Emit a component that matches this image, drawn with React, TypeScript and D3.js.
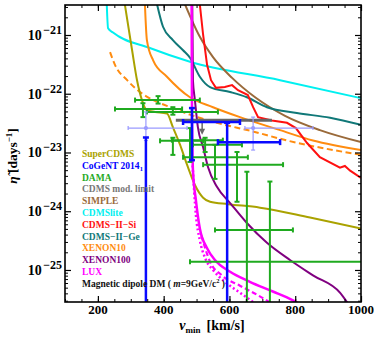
import React, { useEffect, useRef } from 'react';
import * as d3 from 'd3';

// curves: [vmin (km/s), eta (days^-1)]
const superCDMS = [[282, 3.3e-21], [304, 5.5e-22], [319, 1.7e-22], [334, 7.8e-23], [349, 5.2e-23], [374, 4.9e-23], [410, 4.6e-23], [428, 2.7e-23], [450, 1.35e-23], [471, 6.2e-24], [495, 2.8e-24], [520, 1.7e-24], [541, 1.45e-24], [596, 1.32e-24], [693, 1.15e-24], [845, 7.8e-25], [1000, 5.1e-25]];
const cdmsLite = [[227, 3.3e-21], [231, 1.3e-21], [246, 1.1e-21], [358, 6.0e-22], [480, 3.5e-22], [754, 1.7e-22], [1000, 8.4e-23]];
const cdmsSi = [[510, 3.3e-21], [520, 1.0e-21], [532, 3.1e-22], [544, 1.7e-22], [559, 1.26e-22], [586, 1.3e-22], [608, 1.4e-22], [626, 1.15e-22], [656, 9.5e-23], [672, 5.9e-23], [687, 4.0e-23], [729, 3.5e-23], [775, 3.2e-23], [802, 2.6e-23], [836, 1.45e-23], [875, 8.3e-24], [936, 5.5e-24], [951, 5.9e-24], [967, 4.9e-24], [1000, 3.7e-24]];
const cdmsGe = [[380, 3.3e-21], [398, 1.38e-21], [428, 8.2e-22], [459, 5.5e-22], [480, 4.1e-22], [510, 1.95e-22], [541, 1.3e-22], [602, 1.07e-22], [653, 8.7e-23], [714, 5.9e-23], [805, 4.7e-23], [906, 3.9e-23], [1000, 2.95e-23]];
const simple = [[465, 3.3e-21], [510, 9.3e-22], [550, 4.2e-22], [608, 1.86e-22], [678, 8.7e-23], [769, 4.2e-23], [875, 2.4e-23], [1000, 1.5e-23]];
const xenon10 = [[343, 3.3e-21], [349, 8.2e-22], [368, 3.7e-22], [410, 1.95e-22], [480, 8.7e-23], [550, 5.9e-23], [632, 4.0e-23], [754, 2.4e-23], [854, 1.6e-23], [1000, 1.1e-23]];
const xenon10Dash = [[237, 5.1e-22], [252, 3.1e-22], [289, 1.7e-22], [328, 1.07e-22], [368, 7.8e-23], [428, 5.7e-23], [480, 4.4e-23], [571, 3.1e-23], [662, 2.35e-23], [775, 1.6e-23], [1000, 9.1e-24]];
const xenon100 = [[487, 3.3e-21], [489, 1.7e-22], [495, 7.8e-23], [504, 2.7e-23], [520, 1.23e-23], [535, 5.6e-24], [562, 2.6e-24], [602, 1.38e-24], [653, 6.3e-25], [714, 2.9e-25], [784, 1.48e-25], [854, 8.1e-26], [936, 4.1e-26], [960, 2.7e-26]];
const lux = [[485, 3.3e-21], [486, 7.8e-23], [489, 5.0e-24], [498, 1.55e-24], [510, 5.1e-25], [532, 2.35e-25], [556, 1.48e-25], [602, 9.3e-26], [662, 6.3e-26], [732, 4.3e-26], [790, 3.1e-26], [815, 2.6e-26]];
const luxDot = [[488, 6.0e-24], [498, 8.7e-25], [510, 3.2e-25], [526, 1.6e-25], [550, 1.0e-25], [586, 6.3e-26], [632, 4.1e-26], [678, 2.7e-26]];
const luxDash = [[515, 3.8e-25], [541, 1.38e-25], [577, 8.1e-26], [632, 5.4e-26], [687, 3.7e-26], [729, 2.7e-26]];

// DAMA modulation points
const damaV = [383, 337, 428, 428, 480, 526, 556, 623, 653, 723];
const damaVLo = [313, 252, 349, 389, 425, 489, 459, 520, 556, 480];
const damaVHi = [510, 456, 565, 520, 580, 638, 656, 763, 793, 1050];
const damaEta = [7.8e-23, 5.5e-23, 4.9e-23, 1.58e-23, 1.62e-23, 1.35e-23, 8.3e-24, 6.2e-24, 4.8e-25, 1.38e-25];
const damaEtaLo = [6.8e-23, 4.0e-23, 4.4e-23, 9.1e-24, 6.9e-24, 1.02e-23, 3.55e-24, 1.45e-24, 1e-26, 1e-26];
const damaEtaHi = [9.1e-23, 6.9e-23, 5.9e-23, 1.78e-23, 2.6e-23, 1.78e-23, 1.35e-23, 1.02e-23, 4.7e-24, 3.2e-24];

// CoGeNT 2014 points
const cogentV = [346, 486, 593];
const cogentVLo = [346, 459, 565];
const cogentVHi = [346, 632, 754];
const cogentEta = [1.8e-23, 3.3e-23, 1.5e-23];
const cogentEtaLo = [1e-26, 7.4e-24, 1e-26];
const cogentEtaHi = [1.8e-23, 5.7e-23, 3.2e-23];

const cogentLightV = [346, 672];
const cogentLightVLo = [292, 647];
const cogentLightVHi = [471, 854];
const cogentLightEta = [2.6e-23, 2.6e-23];
const cogentLightEtaLo = [1.6e-23, 1.1e-23];
const cogentLightEtaHi = [4.9e-23, 4.0e-23];

// CDMS modulation limit
const cdmsModV = [437, 729];
const cdmsModEta = 3.55e-23;
const cdmsModArrowV = 517;
const cdmsModArrowTip = 2.0e-23;

const xTickLabels = [200, 400, 600, 800, 1000];
const yTickLabels = [1e-25, 1e-24, 1e-23, 1e-22, 1e-21];
const yTickExp = ['\u221225', '\u221224', '\u221223', '\u221222', '\u221221'];

const legendNames = ['SuperCDMS', 'CoGeNT 2014', 'DAMA', 'CDMS mod. limit', 'SIMPLE', 'CDMSlite', 'CDMS\u2212II\u2212Si', 'CDMS\u2212II\u2212Ge', 'XENON10', 'XENON100', 'LUX'];
const legendColors = ['#aaa200', '#0000ff', '#1faa1f', '#777777', '#9a6a3a', '#00f0f0', '#ff1010', '#107878', '#ff8c10', '#800080', '#ff00ff'];

const FONT = "'Liberation Serif', 'DejaVu Serif', serif";

const App = () => {
    const svgRef = useRef(null);

    useEffect(() => {
        const width = 374;
        const height = 337;
        const left = 65, right = 361, top = 5, bottom = 302;

        const svg = d3.select(svgRef.current)
            .attr('width', width)
            .attr('height', height)
            .style('font-family', FONT);
        svg.selectAll('*').remove();

        const x = d3.scaleLinear().domain([100, 1000]).range([left, right]);
        const y = d3.scaleLog().domain([2.85e-26, 3.24e-21]).range([bottom, top]);

        svg.append('defs').append('clipPath').attr('id', 'plotClip')
            .append('rect')
            .attr('x', left).attr('y', top)
            .attr('width', right - left).attr('height', bottom - top);

        const plot = svg.append('g').attr('clip-path', 'url(#plotClip)');

        const line = d3.line().x(d => x(d[0])).y(d => y(d[1])).curve(d3.curveMonotoneX);
        const jagged = d3.line().x(d => x(d[0])).y(d => y(d[1]));

        const curve = (data, color, w, dash, gen = line) => {
            plot.append('path')
                .attr('d', gen(data))
                .attr('fill', 'none')
                .attr('stroke', color)
                .attr('stroke-width', w)
                .attr('stroke-dasharray', dash || null);
        };

        curve(cdmsLite, '#00f0f0', 2);
        curve(simple, '#9a6a3a', 2);
        curve(cdmsGe, '#107878', 2);
        curve(xenon10, '#ff8c10', 2);
        curve(xenon10Dash, '#ff8c10', 2, '6,3.5');
        curve(cdmsSi, '#ff1010', 2, null, jagged);
        curve(superCDMS, '#aaa200', 2);
        curve(xenon100, '#800080', 2);
        curve(luxDot, '#ff00ff', 2.5, '2,2.5');
        curve(luxDash, '#ff00ff', 2.2, '5,3');
        curve(lux, '#ff00ff', 2.5);

        // error bars
        const errorBars = (v, vLo, vHi, eta, etaLo, etaHi, color, w, cap, dot) => {
            v.forEach((vv, i) => {
                const g = plot.append('g').attr('stroke', color).attr('stroke-width', w).attr('fill', 'none');
                const cx = x(vv), cy = y(eta[i]);
                if (vLo[i] !== vHi[i]) {
                    g.append('line').attr('x1', x(vLo[i])).attr('x2', x(vHi[i])).attr('y1', cy).attr('y2', cy);
                    [vLo[i], vHi[i]].forEach(e => g.append('line')
                        .attr('x1', x(e)).attr('x2', x(e)).attr('y1', cy - cap).attr('y2', cy + cap));
                }
                g.append('line').attr('x1', cx).attr('x2', cx).attr('y1', y(etaLo[i])).attr('y2', y(etaHi[i]));
                [etaLo[i], etaHi[i]].forEach(e => g.append('line')
                    .attr('x1', cx - cap).attr('x2', cx + cap).attr('y1', y(e)).attr('y2', y(e)));
                if (dot) {
                    g.append('circle').attr('cx', cx).attr('cy', cy).attr('r', dot).attr('fill', color);
                }
            });
        };

        errorBars(damaV, damaVLo, damaVHi, damaEta, damaEtaLo, damaEtaHi, '#1faa1f', 2, 2.5, 0);

        // CDMS modulation limit with arrow
        plot.append('line')
            .attr('x1', x(cdmsModV[0])).attr('x2', x(cdmsModV[1]))
            .attr('y1', y(cdmsModEta)).attr('y2', y(cdmsModEta))
            .attr('stroke', '#666666').attr('stroke-width', 3);
        const ax = x(cdmsModArrowV), ay0 = y(cdmsModEta), ay1 = y(cdmsModArrowTip);
        plot.append('line')
            .attr('x1', ax).attr('x2', ax).attr('y1', ay0).attr('y2', ay1 - 4)
            .attr('stroke', '#666666').attr('stroke-width', 1.5);
        plot.append('path')
            .attr('d', `M${ax - 3},${ay1 - 6}L${ax + 3},${ay1 - 6}L${ax},${ay1}Z`)
            .attr('fill', '#666666');

        errorBars(cogentLightV, cogentLightVLo, cogentLightVHi, cogentLightEta, cogentLightEtaLo, cogentLightEtaHi, '#9a9aff', 1.2, 2, 1.5);
        errorBars(cogentV, cogentVLo, cogentVHi, cogentEta, cogentEtaLo, cogentEtaHi, '#0a0aff', 2.5, 3, 0);

        // ticks, inside the frame
        const xMinor = d3.range(100, 1001, 50);
        const yAll = y.ticks();
        const yMajor = yAll.filter(t => Math.abs(Math.log10(t) - Math.round(Math.log10(t))) < 1e-6);
        const yMinor = yAll.filter(t => !yMajor.includes(t));

        const axes = [
            [d3.axisBottom(x), `translate(0,${bottom})`, xMinor, xTickLabels],
            [d3.axisTop(x), `translate(0,${top})`, xMinor, xTickLabels],
            [d3.axisLeft(y), `translate(${left},0)`, yMinor, yMajor],
            [d3.axisRight(y), `translate(${right},0)`, yMinor, yMajor]
        ];
        axes.forEach(([ax0, tr, minor, major]) => {
            const gMinor = svg.append('g').attr('transform', tr)
                .call(ax0.tickValues(minor).tickSize(-3).tickFormat(() => ''));
            gMinor.select('.domain').remove();
            gMinor.selectAll('line').attr('stroke-width', 1);
            const gMajor = svg.append('g').attr('transform', tr)
                .call(ax0.tickValues(major).tickSize(-6).tickFormat(() => ''));
            gMajor.select('.domain').remove();
            gMajor.selectAll('line').attr('stroke-width', 1.2);
        });

        svg.append('rect')
            .attr('x', left).attr('y', top)
            .attr('width', right - left).attr('height', bottom - top)
            .attr('fill', 'none').attr('stroke', '#000').attr('stroke-width', 1.6);

        // tick labels
        svg.append('g').selectAll('text').data(xTickLabels).enter().append('text')
            .attr('x', d => x(d)).attr('y', 314)
            .attr('text-anchor', 'middle')
            .attr('font-size', 13).attr('font-weight', 'bold')
            .text(d => d);

        yTickLabels.forEach((t, i) => {
            const txt = svg.append('text')
                .attr('x', 62).attr('y', y(t) + 5)
                .attr('text-anchor', 'end')
                .attr('font-size', 14).attr('font-weight', 'bold');
            txt.append('tspan').text('10');
            txt.append('tspan').attr('dy', -6).attr('dx', 1.5).attr('font-size', 12).text(yTickExp[i]);
        });

        // axis labels
        const yl = svg.append('text')
            .attr('transform', `translate(17,156) rotate(-90)`)
            .attr('text-anchor', 'middle')
            .attr('font-size', 13.5).attr('font-weight', 'bold');
        yl.append('tspan').attr('font-style', 'italic').text('\u03b7\u0303');
        yl.append('tspan').text(' [days');
        yl.append('tspan').attr('dy', -5).attr('font-size', 9).text('\u22121');
        yl.append('tspan').attr('dy', 5).text(']');

        const xl = svg.append('text')
            .attr('x', 212).attr('y', 330)
            .attr('text-anchor', 'middle')
            .attr('font-size', 14).attr('font-weight', 'bold');
        xl.append('tspan').attr('font-style', 'italic').text('v');
        xl.append('tspan').attr('dy', 3).attr('font-size', 9).text('min');
        xl.append('tspan').attr('dy', -3).attr('dx', 6).text('[km/s]');

        // legend
        const legend = svg.append('g').attr('font-size', 9.5).attr('font-weight', 'bold');
        legendNames.forEach((name, i) => {
            const t = legend.append('text')
                .attr('x', 82).attr('y', 157 + i * 11.8)
                .attr('fill', legendColors[i])
                .text(name);
            if (name === 'CoGeNT 2014') {
                t.append('tspan').attr('dy', 2).attr('font-size', 6.5).text('1');
            }
        });
        const md = legend.append('text')
            .attr('x', 82).attr('y', 157 + legendNames.length * 11.8)
            .attr('fill', '#111');
        md.append('tspan').text('Magnetic dipole DM ( ');
        md.append('tspan').attr('font-style', 'italic').text('m');
        md.append('tspan').text('=9GeV/c');
        md.append('tspan').attr('dy', -3.5).attr('font-size', 6.5).text('2');
        md.append('tspan').attr('dy', 3.5).text(' )');
    }, []);

    return (
        <div style={{ position: 'absolute', left: 0, top: 0, background: '#fff' }}>
            <svg ref={svgRef}></svg>
        </div>
    );
};

export default App;
